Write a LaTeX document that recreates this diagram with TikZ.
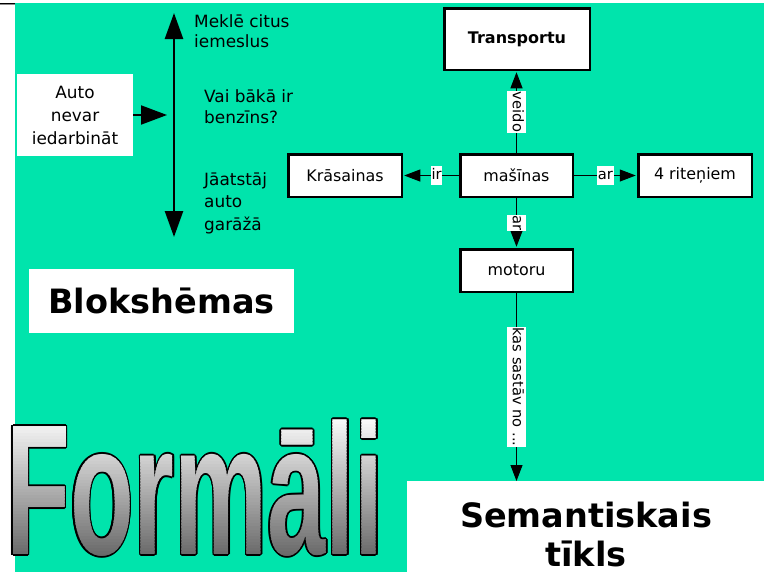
\documentclass[tikz,border=0pt]{standalone}
\usepackage{fontspec}
\usetikzlibrary{arrows.meta}
\setmainfont{DejaVu Sans}
\newfontfamily\wafont{Liberation Sans}
\definecolor{bggreen}{HTML}{00E4AC}
\begin{document}
\begin{tikzpicture}[x=1pt,y=-1pt,
  box/.style={draw=black, line width=2.5pt, fill=white, inner sep=0pt, font=\fontsize{15.9}{18}\selectfont},
  lab/.style={fill=white, inner xsep=0.8pt, inner ysep=2pt, text height=11pt, text depth=3.5pt, font=\fontsize{14.7}{17}\selectfont},
  thinarrow/.style={line width=1pt, shorten >=1.25pt, -{Triangle[length=16pt,width=12pt]}},
  plaintext/.style={inner sep=0pt, align=left, font=\fontsize{16.9}{21}\selectfont, anchor=base west},
  titletext/.style={font=\bfseries\fontsize{33.5}{38.5}\selectfont, inner sep=0pt},
  wa/.style={inner sep=0pt, anchor=base west, font=\wafont\bfseries\fontsize{186}{186}\selectfont},
]
\useasboundingbox (0,0) rectangle (769,576);
\fill[white] (0,0) rectangle (769,576);
\fill[bggreen] (15,3) rectangle (764,572);
\draw[black!45, line width=1pt] (0,4.6) -- (15,4.6);
\draw[black, line width=1.3pt] (0,3.2) -- (15,3.2);

% flowchart part
\node (auto) [fill=white, minimum width=116pt, minimum height=82pt, inner sep=0pt, align=center,
  font=\fontsize{16.9}{23}\selectfont] at (75,115) {Auto\\nevar\\iedarbināt};
\coordinate (vtop) at (174,13);
\coordinate (vbot) at (174,237);
\draw[line width=2.5pt, {Triangle[length=26pt,width=18pt]}-{Triangle[length=26pt,width=18pt]}] (vtop) -- (vbot);
\draw[line width=2pt, shorten >=7pt, -{Triangle[length=26pt,width=19pt]}] (auto.east) -- (auto.east -| vtop);
\node (mek) [plaintext, font=\fontsize{16.9}{20.3}\selectfont] at (194,47.5) {Meklē citus\\iemeslus};
\node (vai) [plaintext] at (204,123.5) {Vai bākā ir\\benzīns?};
\node (jaa) [plaintext, font=\fontsize{16.9}{22.5}\selectfont] at (204,230) {Jāatstāj\\auto\\garāžā};
\node (blok) [titletext, fill=white, minimum width=265pt, minimum height=64pt] at (161.5,301) {Blokshēmas};

% semantic net
\node (trans) [box, minimum width=145.5pt, minimum height=61.5pt, font=\bfseries\fontsize{16}{18}\selectfont] at (517,39) {Transportu};
\node (mas) [box, minimum width=112.5pt, minimum height=42.5pt] at (516.5,175.5) {mašīnas};
\node (kras) [box, minimum width=113.5pt, minimum height=42.5pt] at (345,175.5) {Krāsainas};
\node (rit) [box, minimum width=113.5pt, minimum height=42.5pt] at (695,175.5) {4 riteņiem};
\node (mot) [box, minimum width=112.5pt, minimum height=42.5pt] at (516.5,270.5) {motoru};
\node (sembox) [fill=white, minimum width=362pt, minimum height=95pt, inner sep=0pt, anchor=north west] at (407,481) {};
\node (semt) [titletext, align=center, anchor=base] at (586,566) {Semantiskais\\tīkls};

\draw[thinarrow] (mas.north) -- node[lab, rotate=-90] {veido} (mas.north |- trans.south);
\draw[thinarrow] (mas.west) -- node[lab, pos=0.4] {ir} (kras.east);
\draw[thinarrow] (mas.east) -- node[lab] {ar} (rit.west);
\draw[thinarrow] (mas.south) -- node[lab, rotate=-90] {ar} (mot.north);
\draw[thinarrow, shorten >=0pt] (mot.south) -- node[lab, rotate=-90] {kas sastāv no ...} (mot.south |- sembox.north);

% Formali word art
\foreach \a in {0,30,...,330} {
  \node (fo\a) [wa, text=black, shift={(\a:1.6)}] at (6,554.5) {\scalebox{0.562}[1]{Formāli}};
}
\foreach \i in {0,...,44} {
  \pgfmathsetmacro{\ya}{418+\i*140/45}
  \pgfmathsetmacro{\yb}{\ya+140/45+0.4}
  \pgfmathsetmacro{\p}{2+57*\i/44}
  \begin{scope}
    \clip (0,\ya) rectangle (400,\yb);
    \node (fg\i) [wa, text=black!\p] at (6,554.5) {\scalebox{0.562}[1]{Formāli}};
  \end{scope}
}
\end{tikzpicture}
\end{document}
